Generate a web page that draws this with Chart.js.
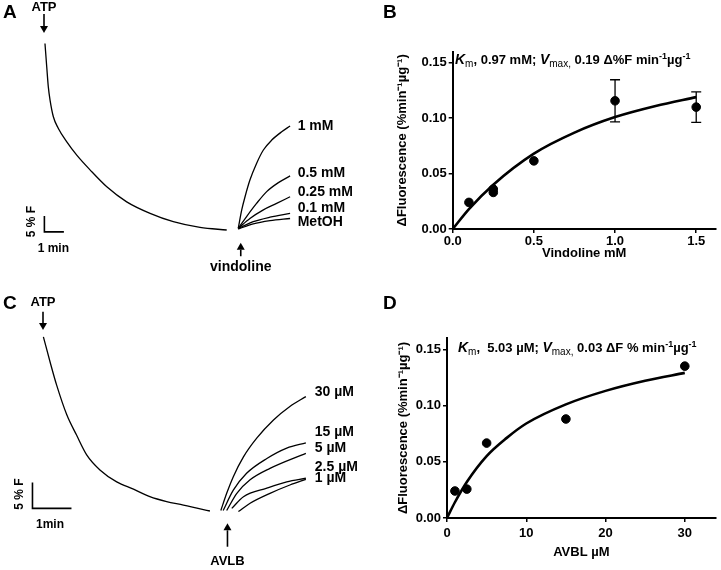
<!DOCTYPE html>
<html>
<head>
<meta charset="utf-8">
<script src="https://cdn.jsdelivr.net/npm/chart.js@4.4.0/dist/chart.umd.min.js"></script>
<style>
body{margin:0;background:#fff}
#wrap{position:relative;width:721px;height:570px;background:#fff}
canvas{position:absolute}
</style>
</head>
<body>
<div id="wrap">
<canvas id="cA" width="360" height="285" style="left:0;top:0"></canvas>
<canvas id="cB" width="361" height="285" style="left:360px;top:0"></canvas>
<canvas id="cC" width="360" height="285" style="left:0;top:285px"></canvas>
<canvas id="cD" width="361" height="285" style="left:360px;top:285px"></canvas>
</div>
<script>
// ---- panel A : ATP quench, then vindoline additions (min, %F) ----
var aAtpT = [0.05,0.14,0.22,0.31,0.48,0.73,1.16,1.68,2.36,3.22,4.24,5.44,6.63,8.0,9.37];
var aAtpF = [58.3,51.0,44.8,40.6,35.4,31.8,27.6,23.4,18.8,13.5,8.8,5.2,2.6,0.8,0];
var aDoses = ['1 mM','0.5 mM','0.25 mM','0.1 mM','MetOH'];
var aDoseT = [
  [9.96,10.14,10.31,10.56,10.9,11.25,11.68,12.19,12.62],
  [9.96,10.39,10.9,11.42,12.02,12.62],
  [9.96,10.56,11.25,11.93,12.62],
  [9.96,10.73,11.59,12.62],
  [9.96,10.73,11.59,12.62]
];
var aDoseF = [
  [0.5,6.3,10.4,15.6,20.8,25.0,28.1,30.7,32.5],
  [0.5,4.2,8.3,12.0,14.8,16.9],
  [0.5,3.6,6.3,8.3,10.4],
  [0.5,2.6,4.0,5.2],
  [0.3,1.9,2.9,3.6]
];
var aBarT = [0.02,0.02,1.02];   // 1 min
var aBarF = [4.4,-0.6,-0.6];    // 5 %F

// ---- panel C : ATP quench, then AVLB additions ----
var cAtpT = [0.01,0.18,0.35,0.61,0.86,1.12,1.46,1.89,2.32,2.74,3.17,3.60,4.03,4.28];
var cAtpF = [33.5,28.7,24.2,18.5,14.6,10.8,7.9,5.6,4.2,2.75,1.8,1.15,0.4,0];
var cDoses = ['30 \u00b5M','15 \u00b5M','5 \u00b5M','2.5 \u00b5M','1 \u00b5M'];
var cDoseT = [
  [4.56,4.71,4.88,5.14,5.48,5.91,6.33,6.74],
  [4.62,4.88,5.22,5.74,6.25,6.74],
  [4.71,4.97,5.31,5.82,6.74],
  [4.84,5.14,5.74,6.25,6.74],
  [5.01,5.31,5.82,6.33,6.74]
];
var cDoseF = [
  [0.1,3.4,6.6,10.4,14.0,17.5,20.1,22.0],
  [0.1,4.0,7.25,10.1,12.1,13.1],
  [0.1,3.4,6.0,8.2,11.1],
  [0.5,2.75,4.4,5.6,6.3],
  [-0.1,1.5,3.4,5.0,6.1]
];
var cBarT = [-0.27,-0.27,0.73];
var cBarF = [5.5,0.5,0.5];

// ---- panel B : vindoline kinetics ----
var bConc = [0.1,0.25,0.25,0.5,1.0,1.5];
var bRate = [0.024,0.033,0.036,0.0615,0.1157,0.110];
var bSem  = [0,0,0,0,0.019,0.0137];
var bFitX = [0,0.1,0.25,0.5,0.75,1.0,1.25,1.5];
var bFitY = [0,0.018,0.040,0.068,0.087,0.101,0.111,0.119];
var bTicksX = [0,0.5,1.0,1.5];
var bTicksY = [0,0.05,0.10,0.15];

// ---- panel D : AVLB kinetics ----
var dConc = [1,2.5,5,15,30];
var dRate = [0.024,0.0257,0.0666,0.088,0.135];
var dFitX = [0,1,2.5,5,7.5,10,15,20,25,30];
var dFitY = [0,0.014,0.032,0.055,0.071,0.084,0.101,0.113,0.122,0.129];
var dTicksX = [0,10,20,30];
var dTicksY = [0,0.05,0.10,0.15];

var fam = "'Liberation Sans', Arial, Helvetica, sans-serif";
var yTitle = '\u0394Fluorescence (%min\u207b\u00b9\u00b5g\u207b\u00b9)';

function pts(xs, ys){ return xs.map(function(x,i){ return {x:x, y:ys[i]}; }); }

function arrow(ctx, x, y1, y2){
  var dir = y2 > y1 ? 1 : -1, hl = 7, hw = 4;
  ctx.lineWidth = 1.6;
  ctx.beginPath(); ctx.moveTo(x, y1); ctx.lineTo(x, y2 - dir*hl); ctx.stroke();
  ctx.beginPath(); ctx.moveTo(x, y2); ctx.lineTo(x-hw, y2-dir*hl); ctx.lineTo(x+hw, y2-dir*hl); ctx.closePath(); ctx.fill();
}

var traceDecor = {
  id: 'traceDecor',
  afterDraw: function(chart, args, o){
    var ctx = chart.ctx, xs = chart.scales.x, ys = chart.scales.y;
    var X = function(t){ return xs.getPixelForValue(t); }, Y = function(f){ return ys.getPixelForValue(f); };
    ctx.save();
    ctx.fillStyle = '#000'; ctx.strokeStyle = '#000';
    ctx.textBaseline = 'middle';
    ctx.font = 'bold 19px ' + fam; ctx.textAlign = 'left';
    ctx.fillText(o.letter, o.letterX, o.letterY);
    ctx.font = 'bold 13px ' + fam; ctx.textAlign = 'center';
    ctx.fillText('ATP', X(o.atp.t), Y(o.atp.textF));
    arrow(ctx, X(o.atp.t), Y(o.atp.fromF), Y(o.atp.toF));
    arrow(ctx, X(o.add.t), Y(o.add.fromF), Y(o.add.toF));
    ctx.font = 'bold ' + o.add.size + 'px ' + fam;
    ctx.fillText(o.add.name, X(o.add.t), Y(o.add.textF));
    ctx.font = 'bold 14px ' + fam; ctx.textAlign = 'left';
    o.labels.forEach(function(s, i){ ctx.fillText(s, X(o.labelT), Y(o.labelF[i])); });
    ctx.font = 'bold 12px ' + fam; ctx.textAlign = 'center';
    ctx.fillText(o.barX.text, X(o.barX.t), Y(o.barX.f));
    ctx.save();
    ctx.translate(X(o.barY.t), Y(o.barY.f)); ctx.rotate(-Math.PI/2);
    ctx.fillText('5 % F', 0, 0);
    ctx.restore();
    ctx.restore();
  }
};

function traceChart(id, o){
  var sets = [{data: pts(o.baseT, o.baseF)}];
  o.doseT.forEach(function(ts, k){ sets.push({data: pts(ts, o.doseF[k])}); });
  sets.push({data: pts(o.barT, o.barF), tension: 0, cubicInterpolationMode: 'default', borderWidth: 1.6});
  new Chart(document.getElementById(id), {
    type: 'scatter',
    data: {datasets: sets},
    options: {
      animation: false, responsive: false, devicePixelRatio: 1,
      layout: {padding: 0},
      elements: {
        line: {borderColor: '#000', borderWidth: 1.3, tension: 0.4, cubicInterpolationMode: 'monotone', fill: false},
        point: {radius: 0}
      },
      datasets: {scatter: {showLine: true}},
      plugins: {legend: {display: false}, tooltip: {enabled: false}, traceDecor: o.decor},
      scales: {
        x: {type: 'linear', display: false, min: o.xMin, max: o.xMax},
        y: {type: 'linear', display: false, min: o.yMin, max: o.yMax}
      }
    },
    plugins: [traceDecor]
  });
}

var kinDecor = {
  id: 'kinDecor',
  afterDatasetsDraw: function(chart, args, o){
    var ctx = chart.ctx, xs = chart.scales.x, ys = chart.scales.y;
    ctx.save();
    ctx.strokeStyle = '#000'; ctx.fillStyle = '#000'; ctx.lineWidth = 1.3;
    o.x.forEach(function(x, i){
      var e = o.err[i]; if (!e) return;
      var px = xs.getPixelForValue(x), t = ys.getPixelForValue(o.y[i] + e), b = ys.getPixelForValue(o.y[i] - e);
      ctx.beginPath();
      ctx.moveTo(px, t); ctx.lineTo(px, b);
      ctx.moveTo(px-5, t); ctx.lineTo(px+5, t);
      ctx.moveTo(px-5, b); ctx.lineTo(px+5, b);
      ctx.stroke();
    });
    ctx.textBaseline = 'middle'; ctx.textAlign = 'left';
    ctx.font = 'bold 19px ' + fam;
    ctx.fillText(o.letter, 23, o.letterY);
    var styles = {
      '': ['bold 13px ' + fam, 0],
      'i': ['italic bold 14px ' + fam, 0],
      'sub': ['10px ' + fam, 3],
      'sup': ['bold 9px ' + fam, -5]
    };
    ctx.textBaseline = 'alphabetic';
    var x = o.textX;
    o.parts.forEach(function(p){
      var s = styles[p[1]];
      ctx.font = s[0];
      ctx.fillText(p[0], x, o.textY + s[1]);
      x += ctx.measureText(p[0]).width;
    });
    ctx.restore();
  }
};

function kinChart(id, o){
  var tickFont = {family: fam, size: 13, weight: 'bold'};
  var titleFont = {family: fam, size: 13, weight: 'bold'};
  new Chart(document.getElementById(id), {
    type: 'scatter',
    data: {datasets: [
      {data: pts(o.fitX, o.fitY), showLine: true, borderColor: '#000', borderWidth: 2.6, pointRadius: 0,
       tension: 0.4, cubicInterpolationMode: 'monotone', order: 2},
      {data: pts(o.x, o.y), backgroundColor: '#000', borderColor: '#000', pointRadius: 4.3, order: 1}
    ]},
    options: {
      animation: false, responsive: false, devicePixelRatio: 1,
      layout: {padding: {left: o.padL, right: 3, top: o.padT, bottom: o.padB}},
      plugins: {legend: {display: false}, tooltip: {enabled: false}, kinDecor: o.decor},
      scales: {
        x: {
          type: 'linear', min: 0, max: o.xMax,
          afterBuildTicks: function(s){ s.ticks = o.ticksX.map(function(v){ return {value: v}; }); },
          afterFit: function(s){ s.height = o.xH; },
          grid: {drawOnChartArea: false, drawTicks: true, tickLength: 4, color: '#000', lineWidth: 1.5},
          border: {color: '#000', width: 2},
          ticks: {color: '#000', font: tickFont, padding: o.xPad, maxRotation: 0, autoSkip: false,
                  callback: function(v){ return o.xFmt(v); }},
          title: {display: true, text: o.xTitle, color: '#000', font: titleFont, padding: 0}
        },
        y: {
          type: 'linear', min: 0, max: 0.16,
          afterBuildTicks: function(s){ s.ticks = o.ticksY.map(function(v){ return {value: v}; }); },
          afterFit: function(s){ s.width = o.yW; },
          grid: {drawOnChartArea: false, drawTicks: true, tickLength: 4, color: '#000', lineWidth: 1.5},
          border: {color: '#000', width: 2},
          ticks: {color: '#000', font: tickFont, padding: 2, autoSkip: false,
                  callback: function(v){ return v.toFixed(2); }},
          title: {display: true, text: yTitle, color: '#000', font: titleFont, padding: 0}
        }
      }
    },
    plugins: [kinDecor]
  });
}

traceChart('cA', {
  baseT: aAtpT, baseF: aAtpF, doseT: aDoseT, doseF: aDoseF, barT: aBarT, barF: aBarF,
  xMin: -44/19.5, xMax: 316/19.5, yMin: -55/3.2, yMax: 230/3.2,
  decor: {
    letter: 'A', letterX: 3, letterY: 12.5,
    atp: {t: 0, textF: 69.6, fromF: 67.5, toF: 61.6},
    add: {name: 'vindoline', size: 14, t: 10.09, fromF: -8.2, toF: -3.97, textF: -11.5},
    labels: aDoses, labelT: 13.01, labelF: [32.3, 17.7, 11.7, 6.8, 2.3],
    barX: {text: '1 min', t: 0.48, f: -5.7},
    barY: {t: -0.63, f: 2.6}
  }
});

traceChart('cC', {
  baseT: cAtpT, baseF: cAtpF, doseT: cDoseT, doseF: cDoseF, barT: cBarT, barF: cBarF,
  xMin: -43/39, xMax: 317/39, yMin: -59/5.2, yMax: 226/5.2,
  decor: {
    letter: 'C', letterX: 3, letterY: 19,
    atp: {t: 0, textF: 40.1, fromF: 38.3, toF: 34.8},
    add: {name: 'AVLB', size: 13, t: 4.73, fromF: -6.87, toF: -2.37, textF: -9.75},
    labels: cDoses, labelT: 6.97, labelF: [22.9, 15.25, 12.06, 8.5, 6.3],
    barX: {text: '1min', t: 0.18, f: -2.56},
    barY: {t: -0.59, f: 3.27}
  }
});

kinChart('cB', {
  x: bConc, y: bRate, fitX: bFitX, fitY: bFitY, ticksX: bTicksX, ticksY: bTicksY,
  xMax: 1.62, xTitle: 'Vindoline mM', xFmt: function(v){ return v.toFixed(1); },
  padL: 35, yW: 57.7, padT: 51.7, padB: 23.6, xH: 32.4, xPad: 1,
  decor: {
    letter: 'B', letterY: 12.5, x: bConc, y: bRate, err: bSem, textX: 95, textY: 63.5,
    parts: [['K','i'],['m','sub'],[', 0.97 mM; ',''],['V','i'],['max,','sub'],[' 0.19 \u0394%F min',''],['-1','sup'],['\u00b5g',''],['-1','sup']]
  }
});

kinChart('cD', {
  x: dConc, y: dRate, fitX: dFitX, fitY: dFitY, ticksX: dTicksX, ticksY: dTicksY,
  xMax: 33.9, xTitle: 'AVBL \u00b5M', xFmt: function(v){ return String(v); },
  padL: 35.2, yW: 51.8, padT: 53, padB: 9.6, xH: 42.4, xPad: 4,
  decor: {
    letter: 'D', letterY: 19, x: dConc, y: dRate, err: [0,0,0,0,0], textX: 98, textY: 66.7,
    parts: [['K','i'],['m','sub'],[',  5.03 \u00b5M; ',''],['V','i'],['max,','sub'],[' 0.03 \u0394F % min',''],['-1','sup'],['\u00b5g',''],['-1','sup']]
  }
});
</script>
</body>
</html>
